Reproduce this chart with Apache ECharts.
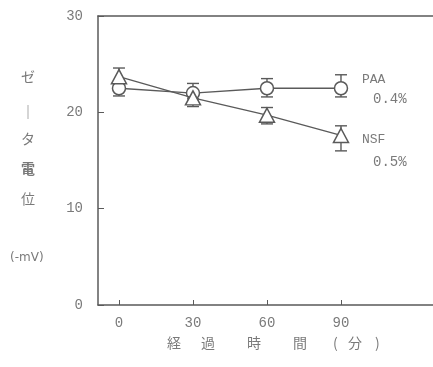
<!DOCTYPE html>
<html><head><meta charset="utf-8">
<script src="https://cdn.jsdelivr.net/npm/echarts@6/dist/echarts.min.js"></script>
<style>html,body{margin:0;padding:0;background:#fff}#c{width:433px;height:367px}</style>
</head><body><div id="c"></div>
<script>
const times = [0, 30, 60, 90];
const paaMean = [22.5, 22.0, 22.5, 22.5];
const paaLow  = [21.7, 21.4, 21.6, 21.6];
const paaHigh = [23.2, 23.0, 23.5, 23.9];
const nsfMean = [23.7, 21.5, 19.7, 17.6];
const nsfLow  = [23.0, 20.6, 18.8, 16.0];
const nsfHigh = [24.6, 22.2, 20.5, 18.6];
const yTicks = [0, 10, 20, 30];
const xTicks = [0, 30, 60, 90];

const ink = '#5a5a5a';
const txt = '#7a7a7a';

function errData(lo, hi){ return times.map((t,i)=>[t, lo[i], hi[i]]); }
function errRender(params, api){
  const x = api.value(0);
  const p1 = api.coord([x, api.value(1)]);
  const p2 = api.coord([x, api.value(2)]);
  const w = 6;
  const st = {stroke: ink, lineWidth: 1.4};
  return {type:'group', children:[
    {type:'line', shape:{x1:p1[0],y1:p1[1],x2:p2[0],y2:p2[1]}, style:st},
    {type:'line', shape:{x1:p1[0]-w,y1:p1[1],x2:p1[0]+w,y2:p1[1]}, style:st},
    {type:'line', shape:{x1:p2[0]-w,y1:p2[1],x2:p2[0]+w,y2:p2[1]}, style:st}
  ]};
}

const chart = echarts.init(document.getElementById('c'), null, {renderer:'canvas'});
const numFont = 'Liberation Mono';
const cjk = '14px "Noto Sans CJK JP"';
chart.setOption({
  backgroundColor:'#fff',
  animation:false,
  grid:{left:98, right:0, top:16, bottom:62},
  xAxis:[{
    type:'value', min:-8.5, max:127.3, interval:30,
    axisLine:{show:true, onZero:false, lineStyle:{color:ink, width:1.5}},
    axisTick:{show:true, inside:true, length:5, lineStyle:{color:ink}, customValues: xTicks},
    axisLabel:{color:txt, fontFamily:numFont, fontSize:14, margin:11, customValues: xTicks},
    splitLine:{show:false}
  },{
    type:'value', position:'top', min:-8.5, max:127.3,
    axisLine:{show:true, onZero:false, lineStyle:{color:ink, width:1.5}},
    axisTick:{show:false}, axisLabel:{show:false}, splitLine:{show:false}
  }],
  yAxis:{
    type:'value', min:0, max:30, interval:10,
    axisLine:{show:true, onZero:false, lineStyle:{color:ink, width:1.5}},
    axisTick:{show:true, inside:true, length:6, lineStyle:{color:ink}},
    axisLabel:{color:txt, fontFamily:numFont, fontSize:14, margin:15},
    splitLine:{show:false}
  },
  series:[
    {type:'custom', renderItem:errRender, data:errData(paaLow,paaHigh), z:1, encode:{x:0,y:[1,2]}},
    {type:'custom', renderItem:errRender, data:errData(nsfLow,nsfHigh), z:1, encode:{x:0,y:[1,2]}},
    {type:'line', data:times.map((t,i)=>[t,paaMean[i]]), symbol:'circle', symbolSize:13,
     lineStyle:{color:ink, width:1.3}, itemStyle:{color:'#fff', borderColor:ink, borderWidth:1.5}, z:3},
    {type:'line', data:times.map((t,i)=>[t,nsfMean[i]]), symbol:'triangle', symbolSize:[15,14],
     lineStyle:{color:ink, width:1.3}, itemStyle:{color:'#fff', borderColor:ink, borderWidth:1.5}, z:4}
  ],
  graphic:[
    {type:'text', left:362, top:73, style:{text:'PAA', fill:txt, font:'13px '+numFont}},
    {type:'text', left:373, top:92, style:{text:'0.4%', fill:txt, font:'14px '+numFont}},
    {type:'text', left:362, top:133, style:{text:'NSF', fill:txt, font:'13px '+numFont}},
    {type:'text', left:373, top:155, style:{text:'0.5%', fill:txt, font:'14px '+numFont}},
    {type:'text', left:21, top:70, style:{text:'ゼ', fill:txt, font:cjk}},
    {type:'text', left:21, top:105, style:{text:'｜', fill:txt, font:cjk}},
    {type:'text', left:21, top:132, style:{text:'タ', fill:txt, font:cjk}},
    {type:'text', left:21, top:162, style:{text:'電', fill:txt, font:'bold 14px "Noto Sans CJK JP"'}},
    {type:'text', left:21, top:192, style:{text:'位', fill:txt, font:cjk}},
    {type:'text', left:10, top:252, style:{text:'(-mV)', fill:txt, font:'12px "DejaVu Sans"'}},
    {type:'text', left:167, top:336, style:{text:'経', fill:txt, font:cjk}},
    {type:'text', left:201, top:336, style:{text:'過', fill:txt, font:cjk}},
    {type:'text', left:247, top:336, style:{text:'時', fill:txt, font:cjk}},
    {type:'text', left:293, top:336, style:{text:'間', fill:txt, font:cjk}},
    {type:'text', left:333, top:336, style:{text:'(', fill:txt, font:cjk}},
    {type:'text', left:348, top:336, style:{text:'分', fill:txt, font:cjk}},
    {type:'text', left:375, top:336, style:{text:')', fill:txt, font:cjk}}
  ]
});
</script></body></html>
